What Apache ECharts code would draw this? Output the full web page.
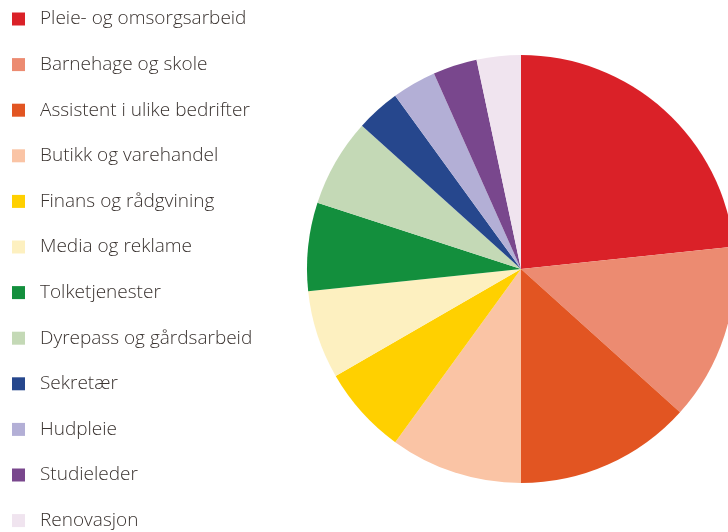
<!DOCTYPE html>
<html>
<head>
<meta charset="utf-8">
<script src="https://cdn.jsdelivr.net/npm/echarts@6/dist/echarts.min.js"></script>
<style>
  html, body { margin: 0; padding: 0; background: #fff; }
  #chart-container { width: 728px; height: 532px; }
</style>
</head>
<body>
<div id="chart-container"></div>
<script>
var categories = [
  'Pleie- og omsorgsarbeid',
  'Barnehage og skole',
  'Assistent i ulike bedrifter',
  'Butikk og varehandel',
  'Finans og rådgvining',
  'Media og reklame',
  'Tolketjenester',
  'Dyrepass og gårdsarbeid',
  'Sekretær',
  'Hudpleie',
  'Studieleder',
  'Renovasjon'
];
var values = [7, 4, 4, 3, 2, 2, 2, 2, 1, 1, 1, 1];
var colors = [
  '#da2128', '#ec8b71', '#e25522', '#fac4a5', '#ffd000', '#fdf0c0',
  '#138f3d', '#c4d9b6', '#26478d', '#b3afd6', '#79478d', '#f0e4ef'
];

var dom = document.getElementById('chart-container');
var myChart = echarts.init(dom);

// 图例 + 饼图
myChart.setOption({
  backgroundColor: '#fff',
  animation: false,
  color: colors,
  legend: {
    orient: 'vertical',
    left: 12,
    top: 9.5,
    padding: 0,
    itemWidth: 13,
    itemHeight: 13,
    itemGap: 26.6,
    icon: 'rect',
    textStyle: {
      fontFamily: 'Open Sans',
      fontWeight: 300,
      fontSize: 19,
      color: '#3a3330',
      padding: [0, 0, 0, 10]
    },
    data: categories
  },
  series: [
    {
      type: 'pie',
      center: [521, 269],
      radius: 214,
      startAngle: 90,
      clockwise: true,
      label: { show: false },
      labelLine: { show: false },
      itemStyle: { borderWidth: 0 },
      emphasis: { disabled: true },
      data: categories.map(function (name, i) {
        return { name: name, value: values[i] };
      })
    }
  ]
});

window.addEventListener('resize', myChart.resize);
</script>
</body>
</html>
